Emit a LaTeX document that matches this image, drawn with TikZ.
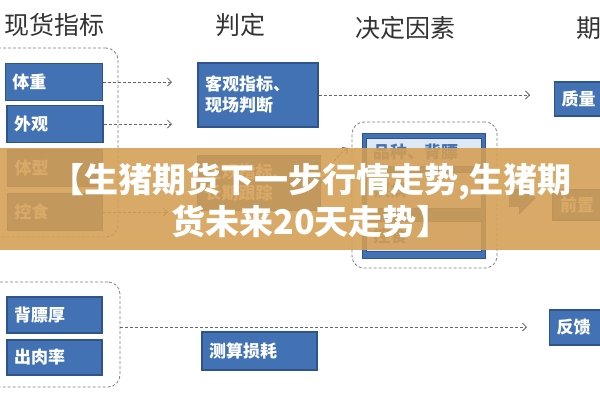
\documentclass[tikz,border=0pt]{standalone}
\usepackage{fontspec}
\newfontfamily\cjk{Noto Sans CJK SC}
\usetikzlibrary{shapes.arrows,arrows.meta}
\definecolor{blu}{RGB}{66,114,180}
\definecolor{bdr}{RGB}{45,85,140}
\definecolor{pale}{RGB}{222,232,245}
\definecolor{tan}{RGB}{212,158,82}
\begin{document}
\begin{tikzpicture}[x=1pt,y=-1pt,
  blk/.style={draw=bdr,line width=1.2pt,fill=blu,text=white,font=\cjk\bfseries\fontsize{17}{21}\selectfont,align=left,inner xsep=7pt,minimum height=37pt},
  row/.style={draw=bdr,line width=1pt,fill=pale,text=blu,font=\cjk\bfseries\fontsize{17}{21}\selectfont,align=left,inner xsep=7pt,text width=101pt},
  grp/.style={draw=gray,densely dashed,line width=0.8pt,rounded corners=12pt},
  arr/.style={draw=gray!80!black,densely dashed,line width=0.8pt,-{Straight Barb[length=4pt,width=8pt]}},
  hd/.style={font=\cjk\fontsize{25}{29}\selectfont,text=black!80}]
\useasboundingbox (0,0) rectangle (600,400);
% headers
\node[hd,anchor=east] (h1) at (108,25) {现货指标};
\node[hd] (h2) at (240,25) {判定};
\node[hd] (h3) at (405,28) {决定因素};
\node[hd,anchor=west] (h4) at (573,28) {期};
% left groups
\node[grp,minimum width=140pt,minimum height=189pt] (xianhuo) at (48,142.5) {};
\node[blk,text width=83pt] (tizhong) at (54,82) {体重};
\node[blk,text width=82pt] (waiguan) at (55,124) {外观};
\node[blk,text width=81pt] (tixing) at (55,168) {体型};
\node[blk,text width=81pt] (kongshi) at (55,212) {控食};
\node[grp,minimum width=140pt,minimum height=105pt] (tuzai) at (50,334.5) {};
\node[blk,text width=81pt,minimum height=36pt] (beibiao) at (54.5,315) {背膘厚};
\node[blk,text width=81pt,minimum height=35pt] (churou) at (54.5,357.5) {出肉率};
% judgement
\node[blk,text width=106pt,minimum height=64pt] (keguan) at (258,95) {客观指标、\\现场判断};
\node[blk,text width=109pt,minimum height=55pt] (zhuguan) at (259,183) {主观指标、\\长期跟踪};
\node[blk,text width=101pt,minimum height=38pt] (cesuan) at (259.5,351) {测算损耗};
% factors
\node[grp,minimum width=145pt,minimum height=146pt] (yinsu) at (424.5,195) {};
\node[draw=bdr,fill=blu,minimum width=123pt,minimum height=125pt] (rongqi) at (423.5,195.5) {};
\node[row,minimum height=28pt] (pinzhong) at (423.5,152) {品种、背膘};
\node[row,minimum height=36pt] (jibing) at (423.5,190) {疾病};
\node[row,minimum height=30pt] (siyang) at (423.5,236) {控食};
% right column
\node[blk,text width=51pt,minimum height=34pt] (zhiliang) at (587,99) {质量};
\node[single arrow,fill=blu,draw=bdr,minimum height=26pt,minimum width=32pt,single arrow head extend=3pt] (jiantou) at (518,198) {};
\node[blk,text width=50pt,minimum height=30pt] (qianzhi) at (585,205) {前置};
\node[blk,text width=51pt,minimum height=35pt] (fankui) at (582,327.5) {反馈};
% connectors
\coordinate (a1) at (172,82);
\coordinate (a2) at (172,124);
\coordinate (a3) at (168,212);
\coordinate (a4) at (530,95);
\coordinate (a5) at (527,327);
\coordinate (a6) at (348,148);
\draw[arr] (tizhong) -- (a1);
\draw[arr] (waiguan) -- (a2);
\draw[arr] (kongshi) -- (a3);
\draw[arr] (keguan) -- (a4);
\draw[arr] ([yshift=7.5pt]tuzai.east) -- (a5);
\draw[arr] (zhuguan.east) to[out=60,in=215] (a6);
% banner
\fill[tan,fill opacity=0.88] (0,148) rectangle (600,250);
\node[font=\cjk\bfseries\fontsize{34}{42}\selectfont,text=white,align=center] (biaoti) at (311,200) {【生猪期货下一步行情走势,生猪期\\货未来20天走势】};
\end{tikzpicture}
\end{document}
